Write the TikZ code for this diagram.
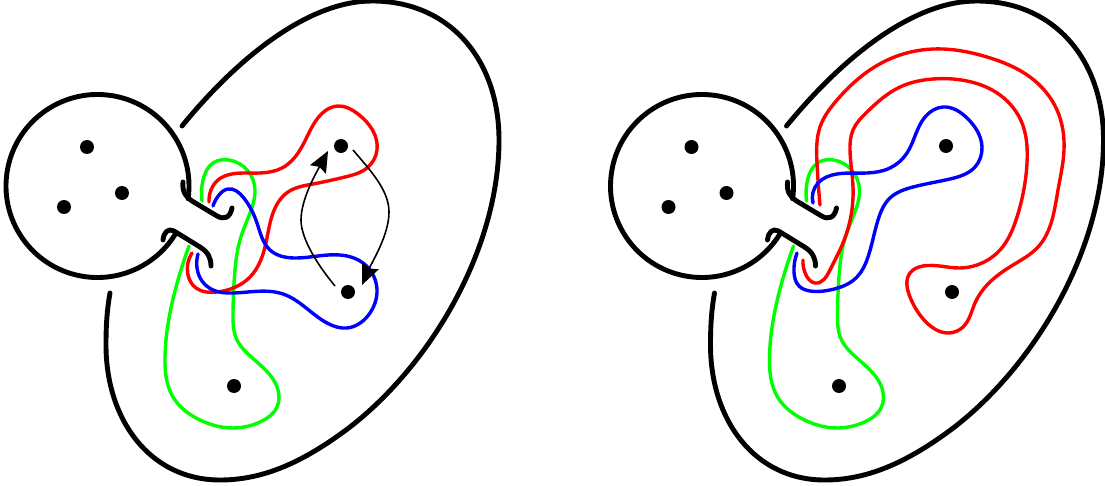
\documentclass[tikz,border=0pt]{standalone}
\usetikzlibrary{arrows.meta,hobby}
\tikzset{
  blk/.style={line width=4.9pt,black,line cap=round,line join=round},
  col/.style={line width=3.4pt,line cap=round,line join=round,use Hobby shortcut},
  dot/.style={circle,fill=black,inner sep=0pt,minimum size=14pt,draw=none},
  arr/.style={line width=1.6pt,-{Stealth[length=21pt,width=18pt,inset=3pt]}},
}
\definecolor{gr}{RGB}{0,255,0}
\definecolor{rd}{RGB}{255,0,0}
\definecolor{bl}{RGB}{0,0,255}
\newcommand{\basefig}[1]{%
  \draw[blk] (97.5,186) ++(-8:91.5pt) arc[start angle=-8,end angle=329,radius=91.5pt];
  \draw[blk] (183,182) .. controls (182,192) and (186,197) .. (192,201) -- (217,216) .. controls (224,220) and (230,218) .. (232,208);
  \draw[blk] (163,240) .. controls (164,232) and (168,228) .. (174,231) -- (200,247) .. controls (208,252) and (211,258) .. (211,266);
  \draw[blk] (182,126) .. controls (240,55) and (310,1) .. (372,1) .. controls (450,1) and (499,60) .. (499,140) .. controls (499,250) and (430,365) .. (350,427) .. controls (300,465) and (260,480) .. (220,480) .. controls (150,480) and (106,420) .. (106,345) .. controls (106,325) and (107,310) .. (110,293);
  \draw[col,gr] (202,201)..(203,180)..(213,163)..(229,160)..(248,171)..(255,190)..(250,213)..(240,240)..(235,270)..(233,313)..(237,340)..(247,353)..(278,390)..(277,407)..(260,422)..(233,428)..(200,420)..(173,397)..(165,357)..(178,280)..(189,246);
  \node[dot] (#1a) at (87,147) {};
  \node[dot] (#1b) at (122,193) {};
  \node[dot] (#1c) at (64,207) {};
}
\begin{document}
\begin{tikzpicture}[x=1pt,y=-1pt]
\useasboundingbox (0,0) rectangle (1105,486);
\basefig{l}
\draw[col,rd] (209,202)..(211,190)..(218,180)..(232,174)..(260,173)..(282,168)..(300,150)..(315,122)..(338,106)..(358,114)..(377,150)..(367,168)..(345,177)..(313,184)..(288,192)..(273,213)..(265,247)..(250,277)..(217,292)..(196,288)..(188,275)..(192,253);
\draw[col,bl] (213,206)..(219,195)..(228,189)..(243,197)..(257,223)..(270,250)..(297,258)..(340,255)..(363,263)..(377,293)..(370,313)..(347,328)..(327,323)..(283,294)..(233,293)..(213,290)..(202,281)..(197,268)..(198,254);
\node[dot] (p1) at (341,146) {};
\node[dot] (p2) at (348,292) {};
\node[dot] (p3) at (234,386) {};
\coordinate (a1) at (335,286);
\coordinate (a2) at (328,151);
\coordinate (a3) at (353,150);
\coordinate (a4) at (362,285);
\draw[arr] (a1) .. controls (320,268) and (301,240) .. (301,220) .. controls (301,200) and (315,175) .. (a2);
\draw[arr] (a3) .. controls (370,170) and (389,190) .. (389,212) .. controls (389,235) and (372,262) .. (a4);
\begin{scope}[xshift=604.5pt]
\basefig{r}
\end{scope}
\draw[col,rd] (820,205)..(817,163)..(820,127)..(837,100)..(867,72)..(900,55)..(943,49)..(987,57)..(1030,77)..(1057,110)..(1064,150)..(1058,190)..(1038,247)..(1013,265)..(987,285)..(975,303)..(963,327)..(948,333)..(927,323)..(910,297)..(910,273)..(923,266)..(960,268)..(977,265)..(1000,250)..(1017,217)..(1027,163)..(1022,123)..(1000,95)..(967,81)..(933,79)..(900,87)..(867,112)..(853,130)..(850,150)..(853,187)..(843,243)..(830,270)..(815,283)..(806,275)..(803,260);
\draw[col,bl] (813,203)..(818,183)..(837,174)..(867,173)..(890,168)..(907,153)..(925,117)..(943,107)..(967,118)..(982,147)..(975,167)..(950,179)..(913,187)..(890,198)..(878,220)..(868,257)..(857,277)..(830,290)..(810,291)..(799,286)..(794,272)..(797,253);
\node[dot] (q1) at (946,146) {};
\node[dot] (q2) at (952,292) {};
\node[dot] (q3) at (839,386) {};
\end{tikzpicture}
\end{document}
